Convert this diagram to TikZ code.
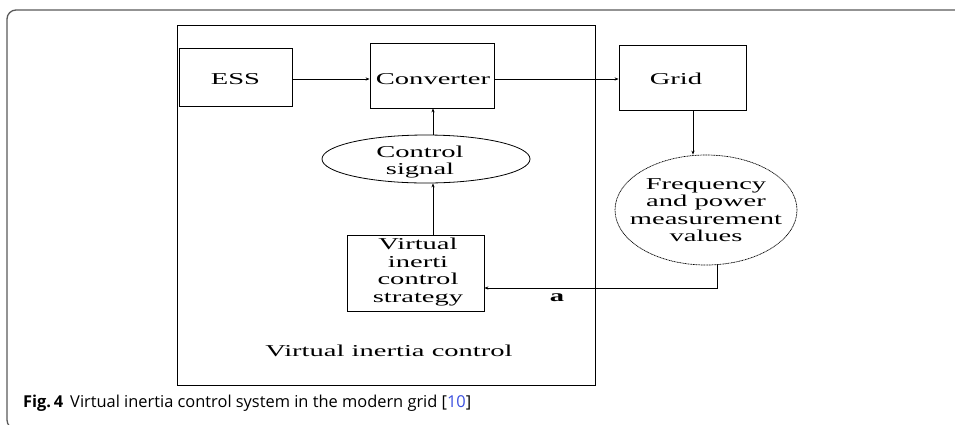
\documentclass[tikz,border=0pt]{standalone}
\usepackage{fontspec}
\usetikzlibrary{shapes.geometric,arrows.meta}
\newfontfamily\diafont[FakeStretch=1.72]{Liberation Serif}
\newfontfamily\capfont{Open Sans}
\definecolor{framegray}{HTML}{5A5A5A}
\definecolor{reflink}{HTML}{3B4FE0}
\tikzset{
  lbl/.style={font=\diafont\fontsize{16.6}{17.4}\selectfont, align=center, inner sep=0pt},
  blk/.style={draw, rectangle, inner sep=0pt, line width=0.8pt},
  oval/.style={draw, ellipse, inner sep=0pt, line width=0.8pt},
  flow/.style={line width=0.8pt, -{Stealth[length=4pt,width=3.2pt]}},
  wire/.style={line width=0.8pt},
}
\begin{document}
\begin{tikzpicture}[x=1pt,y=-1pt]
\useasboundingbox (0,0) rectangle (955,424);
\fill[white] (0,0) rectangle (955,424);

% panel frame, open on the right and at the bottom
\begin{scope}
\clip (0,0) rectangle (955,424);
\draw[framegray, line width=1.3pt, rounded corners=9pt] (960,10) -- (7,10) -- (7,429) -- (40,429);
\end{scope}

% outer block: virtual inertia control
\node[blk, minimum width=418pt, minimum height=360pt] (vic) at (386,205) {};
\node[lbl] (viclbl) at (389,351) {Virtual inertia control};

% blocks
\node[blk, minimum width=113pt, minimum height=58pt] (ess) at (235.5,77) {};
\node[lbl] at (235.5,79) {ESS};
\node[blk, minimum width=124pt, minimum height=65pt] (conv) at (432,75.5) {};
\node[lbl] at (433,79) {Converter};
\node[blk, minimum width=127pt, minimum height=65pt] (grid) at (682.5,77.5) {};
\node[lbl] at (676,79) {Grid};

\node[oval, minimum width=208pt, minimum height=48pt] (sig) at (426,159) {};
\node[lbl] at (420,162) {Control\\signal};

\node[blk, minimum width=137pt, minimum height=76pt] (vics) at (415.5,273) {};
\node[lbl] at (418,272) {Virtual\\inerti\\control\\strategy};

\node[oval, dash pattern=on 1pt off 0.6pt, line width=0.7pt, minimum width=182pt, minimum height=110pt] (meas) at (706,210) {};
\node[lbl] at (706,210) {Frequency\\and power\\measurement\\values};

% connectors
\coordinate (a1) at (433,0);
\draw[flow] (ess.east |- 0,79) -- (conv.west |- 0,79);
\draw[flow] (conv.east |- 0,79) -- (grid.west |- 0,79);
\draw[flow] (grid.south -| 693,0) -- (meas.north -| 693,0);
\draw[flow] (vics.north -| a1) -- (sig.south -| a1);
\draw[flow] (sig.north -| a1) -- (conv.south -| a1);
\coordinate (fbk) at (717,288);
\draw[flow] (meas.south -| fbk) -- (fbk) -- (vics.east |- fbk);
\node[lbl, font=\diafont\bfseries\fontsize{16.6}{17.4}\selectfont] (alab) at (557,298) {a};

% caption
\node[anchor=base west, inner sep=0pt, font=\capfont\fontsize{16.4}{19}\selectfont] (cap) at (23,407)
  {\textbf{Fig.\,4}\hspace{7pt}Virtual inertia control system in the modern grid [{\color{reflink}10}]};
\end{tikzpicture}
\end{document}
